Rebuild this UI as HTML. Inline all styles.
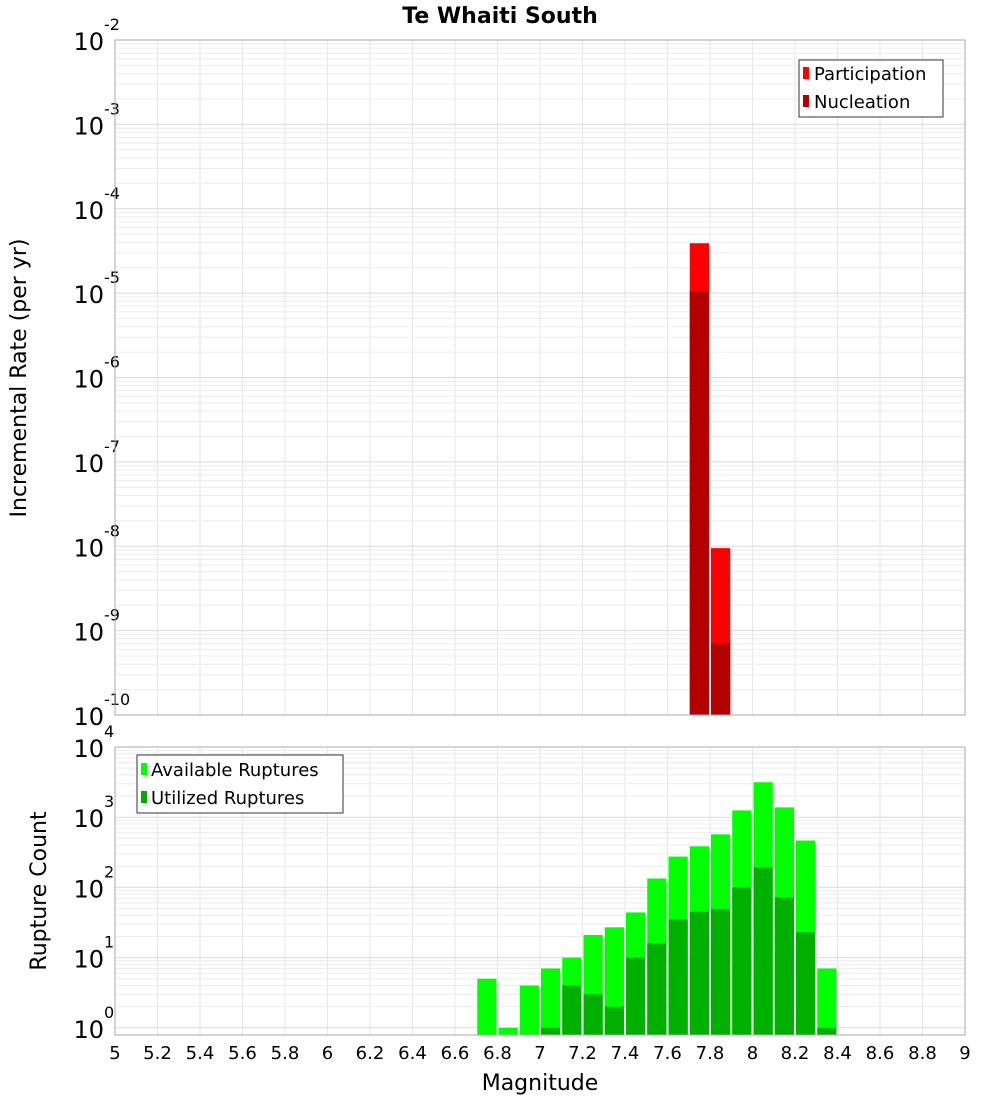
<!DOCTYPE html>
<html><head><meta charset="utf-8"><style>
body{margin:0;background:#fff;font-family:"Liberation Sans","DejaVu Sans",sans-serif}
</style></head><body>
<svg id="chart" width="1000" height="1100" xmlns="http://www.w3.org/2000/svg" font-family="DejaVu Sans, Liberation Sans, sans-serif">
<text x="500" y="23" text-anchor="middle" font-size="22" font-weight="bold">Te Whaiti South</text>
<g id="topg"></g>
<g id="botg"></g>
<text transform="translate(26,378) rotate(-90)" text-anchor="middle" font-size="22">Incremental Rate (per yr)</text>
<text transform="translate(46,891) rotate(-90)" text-anchor="middle" font-size="22">Rupture Count</text>
<text x="540" y="1090" text-anchor="middle" font-size="22">Magnitude</text>
<g>
<rect x="799" y="60" width="144" height="57" fill="#fff" stroke="#333"/>
<rect x="803" y="67" width="6" height="12" fill="#ff0000"/>
<text x="814" y="80" font-size="18">Participation</text>
<rect x="803" y="95" width="6" height="12" fill="#b30000"/>
<text x="814" y="108" font-size="18">Nucleation</text>
</g>
<g>
<rect x="137" y="755" width="206" height="58" fill="#fff" stroke="#333"/>
<rect x="141" y="763" width="6" height="12" fill="#00ff00"/>
<text x="151" y="776" font-size="18">Available Ruptures</text>
<rect x="141" y="791" width="6" height="12" fill="#00aa00"/>
<text x="151" y="804" font-size="18">Utilized Ruptures</text>
</g>
</svg>
<script>
const rateMags=[7.75,7.85];
const participation=[3.9e-5,9.5e-9];
const nucleation=[1.06e-5,7.1e-10];
const countMags=[6.75,6.85,6.95,7.05,7.15,7.25,7.35,7.45,7.55,7.65,7.75,7.85,7.95,8.05,8.15,8.25,8.35];
const available=[5,1,4,7,10,21,27,44,134,275,385,570,1250,3150,1380,465,7];
const utilized=[0,0,0,1,4,3,2,10,16,35,45,49,100,193,72,23,1];
const xTicks=[5,5.2,5.4,5.6,5.8,6,6.2,6.4,6.6,6.8,7,7.2,7.4,7.6,7.8,8,8.2,8.4,8.6,8.8,9];
const rateExps=[-10,-9,-8,-7,-6,-5,-4,-3,-2];
const countExps=[0,1,2,3,4];

const NS="http://www.w3.org/2000/svg";
const X0=115,X1=965;
const xs=m=>X0+(m-5)/4*(X1-X0);
const T0=40,T1=715;
const yTop=v=>T1-(Math.log10(v)+10)*(T1-T0)/8;
const B0=747,B1=1035,BD=70.2;
const yBot=v=>(B0+4*BD)-Math.log10(v)*BD;
function el(p,tag,a){const e=document.createElementNS(NS,tag);for(const k in a)e.setAttribute(k,a[k]);p.appendChild(e);return e;}
const topG=document.getElementById('topg'),botG=document.getElementById('botg');

function frame(g,y0,y1,exps,ys,name){
  for(const t of xTicks){const l=el(g,'line',{x1:xs(t),x2:xs(t),y1:y0,y2:y1,stroke:'#e6e6e6'});
    
    }
  for(let i=0;i<exps.length-1;i++){for(let k=1;k<10;k++){const y=ys(k*Math.pow(10,exps[i]));
    const l=el(g,'line',{x1:X0,x2:X1,y1:y,y2:y,stroke:k==1?'#dcdcdc':'#ececec'});
    
    }}
  for(const e of exps){const y=ys(Math.pow(10,e));
    const t=el(g,'text',{x:104,y:y+10,'text-anchor':'end','font-size':24});
    
    
    t.textContent='10';
    const s=el(g,'text',{x:104,y:y-10,'font-size':16});s.textContent=String(e);}
}
frame(topG,T0,T1,rateExps,yTop,'rate-y');
frame(botG,B0,B1,countExps,yBot,'count-y');
const bw=xs(5.1)-xs(5)-2;
rateMags.forEach((m,i)=>{
  const b=el(topG,'rect',{x:xs(m)-bw/2,y:yTop(participation[i]),width:bw,height:T1-yTop(participation[i]),fill:'#ff0000'});
  
  
  const n=el(topG,'rect',{x:xs(m)-bw/2,y:yTop(nucleation[i]),width:bw,height:T1-yTop(nucleation[i]),fill:'#b30000'});
  
  
});
countMags.forEach((m,i)=>{
  const b=el(botG,'rect',{x:xs(m)-bw/2,y:yBot(available[i]),width:bw,height:B1-yBot(available[i]),fill:'#00ff00'});
  
  
  if(utilized[i]>0){const u=el(botG,'rect',{x:xs(m)-bw/2,y:yBot(utilized[i]),width:bw,height:B1-yBot(utilized[i]),fill:'#00b000'});
  
  }
});
el(topG,'rect',{x:X0,y:T0,width:X1-X0,height:T1-T0,fill:'none',stroke:'#aaa'});
el(botG,'rect',{x:X0,y:B0,width:X1-X0,height:B1-B0,fill:'none',stroke:'#aaa'});
for(const t of xTicks){const e=el(botG,'text',{x:xs(t),y:1059,'text-anchor':'middle','font-size':18});
  
  
  e.textContent=String(t);}
</script>
</body></html>
